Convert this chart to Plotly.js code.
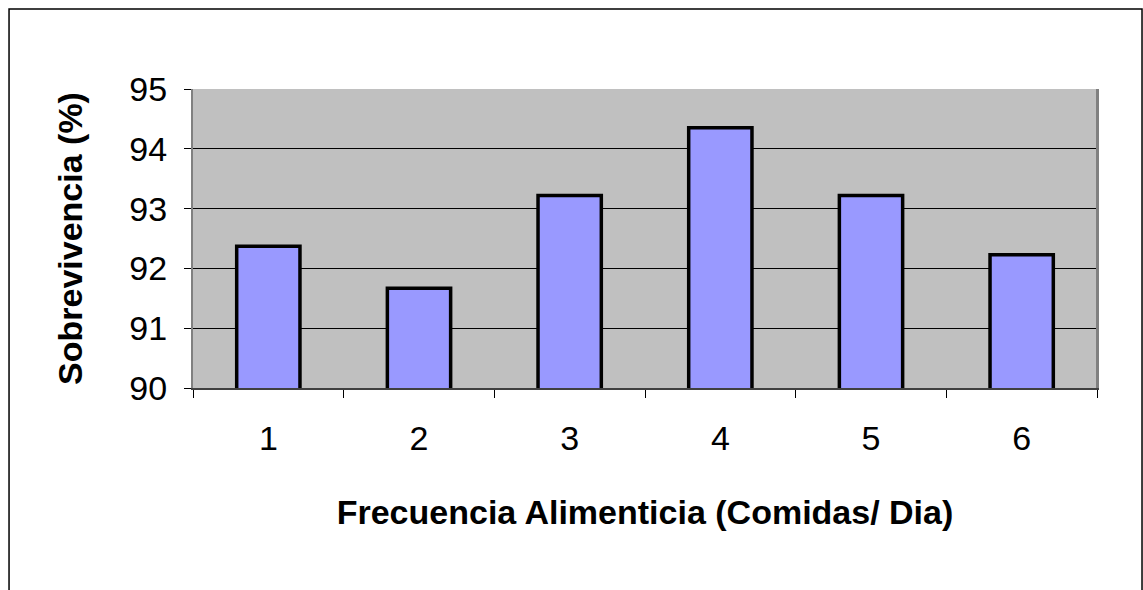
<!DOCTYPE html>
<html>
<head>
<meta charset="utf-8">
<script src="https://cdn.plot.ly/plotly-3.0.1.min.js"></script>
<style>
  html, body { margin: 0; padding: 0; background: #fff; }
  #chart { width: 1143px; height: 590px; }
</style>
</head>
<body>
<div id="chart"></div>
<script>
// Feeding frequency (meals per day) vs. survival (%)
const frecuencia = [1, 2, 3, 4, 5, 6];
const sobrevivencia = [92.37, 91.67, 93.22, 94.35, 93.22, 92.23];
const yTicks = [90, 91, 92, 93, 94, 95];
const categoryEdges = [0.5, 1.5, 2.5, 3.5, 4.5, 5.5, 6.5];

const FONT = 'Arial, "Liberation Sans", sans-serif';

const bars = {
  type: 'bar',
  x: frecuencia,
  y: sobrevivencia,
  width: 0.42,
  marker: { color: '#9999FF', line: { color: '#000000', width: 3.5 } },
  hoverinfo: 'x+y'
};

// invisible helper trace so the boundary tick axis is drawn
const edgeTicks = {
  type: 'scatter',
  x: categoryEdges,
  y: categoryEdges.map(() => 90),
  xaxis: 'x2',
  mode: 'markers',
  marker: { opacity: 0 },
  hoverinfo: 'skip',
  showlegend: false
};

const layout = {
  width: 1143,
  height: 590,
  margin: { l: 193, r: 46, t: 89, b: 202 },
  paper_bgcolor: '#ffffff',
  plot_bgcolor: '#C0C0C0',
  showlegend: false,
  font: { family: FONT, color: '#000000', size: 28 },
  xaxis: {
    range: [0.5, 6.5],
    tickmode: 'array',
    tickvals: frecuencia,
    ticktext: frecuencia.map(String),
    ticks: '',
    showgrid: false,
    zeroline: false,
    showline: false,
    tickfont: { family: FONT, size: 34, color: '#000' },
    ticklabelstandoff: 27,
    title: {
      text: '<b>Frecuencia Alimenticia (Comidas/ Dia)</b>',
      font: { family: FONT, size: 34, color: '#000' },
      standoff: 44
    },
    fixedrange: true
  },
  xaxis2: {
    overlaying: 'x',
    anchor: 'y',
    side: 'bottom',
    range: [0.5, 6.5],
    tickmode: 'array',
    tickvals: categoryEdges,
    ticktext: categoryEdges.map(() => ''),
    ticks: 'outside',
    ticklen: 8,
    tickwidth: 1,
    tickcolor: '#000',
    showgrid: false,
    zeroline: false,
    showline: true,
    linecolor: '#404040',
    linewidth: 2,
    fixedrange: true
  },
  yaxis: {
    range: [90, 95],
    tickmode: 'array',
    tickvals: yTicks,
    ticktext: yTicks.map(String),
    ticks: 'outside',
    ticklen: 7,
    tickwidth: 1,
    tickcolor: '#000',
    showgrid: true,
    gridcolor: '#000000',
    gridwidth: 1,
    zeroline: false,
    showline: true,
    linecolor: '#808080',
    linewidth: 2,
    mirror: true,
    tickfont: { family: FONT, size: 34, color: '#000' },
    ticklabelstandoff: 10,
    title: {
      text: '<b>Sobrevivencia (%)</b>',
      font: { family: FONT, size: 34, color: '#000' },
      standoff: 36
    },
    fixedrange: true
  },
  shapes: [
    {
      type: 'rect', xref: 'paper', yref: 'paper',
      x0: -0.2035, x1: 1.0498, y0: -0.72, y1: 1.2676,
      line: { color: '#000000', width: 1.5 },
      fillcolor: 'rgba(0,0,0,0)',
      layer: 'below'
    },
    {
      type: 'line', xref: 'paper', yref: 'paper',
      x0: 1, x1: 1, y0: 0, y1: 1,
      line: { color: '#808080', width: 2 }
    }
  ]
};

Plotly.newPlot('chart', [bars, edgeTicks], layout, { displayModeBar: false, staticPlot: true });
</script>
</body>
</html>
